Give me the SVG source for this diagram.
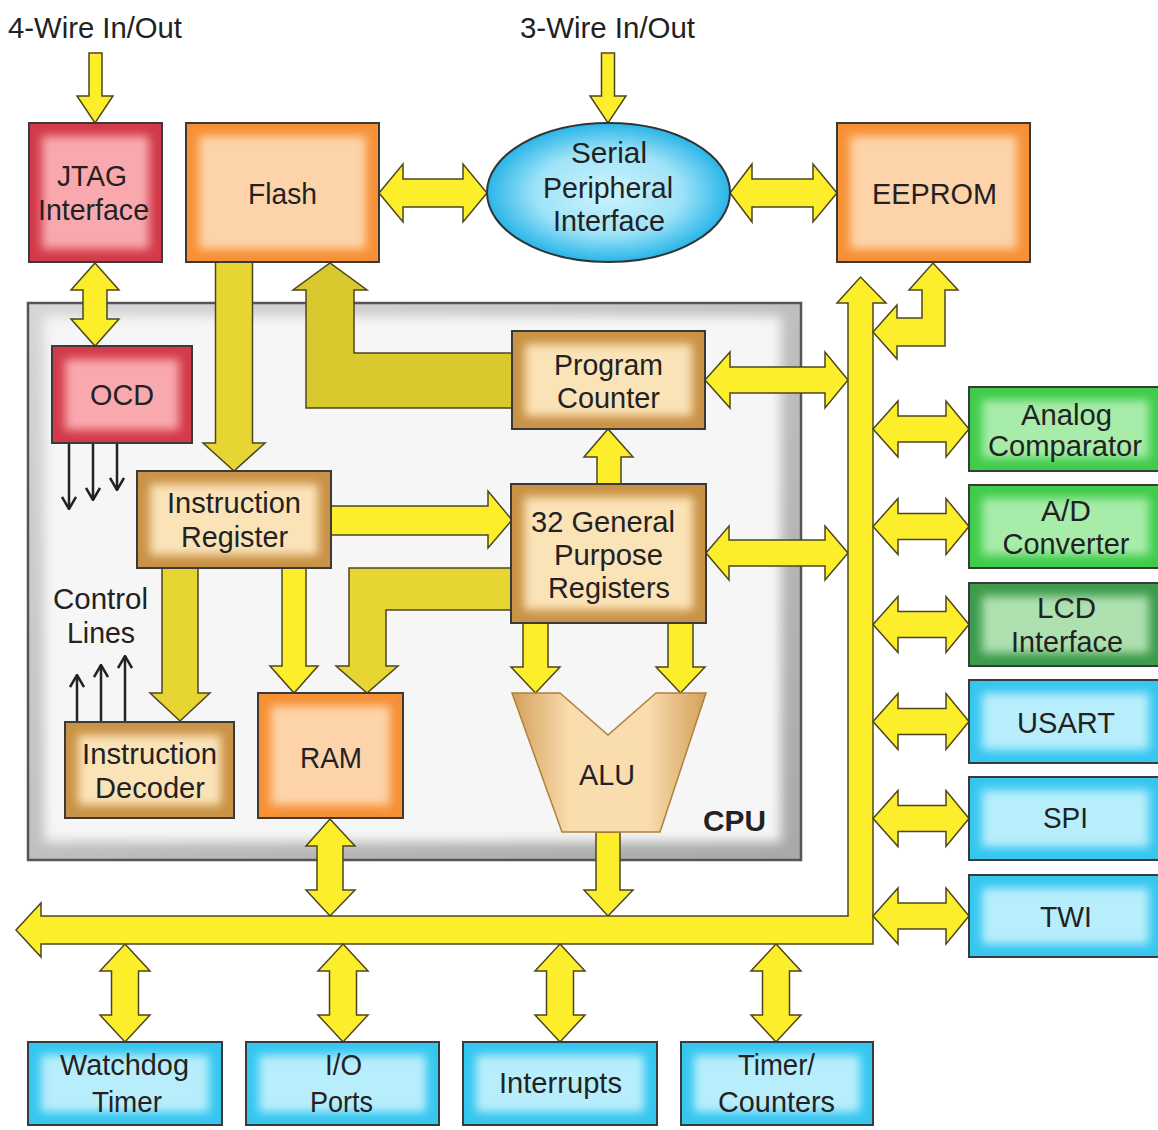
<svg xmlns="http://www.w3.org/2000/svg" width="1158" height="1130" viewBox="0 0 1158 1130">
<style>
.t{font-family:"Liberation Sans",Arial,sans-serif;fill:#222;text-anchor:middle;font-size:30px}
.tb{font-weight:bold}
.bx{fill:none;stroke:#3a3a3a;stroke-width:2}
.y{fill:#fdee2b;stroke:#4d4520;stroke-width:1.5;stroke-linejoin:miter}
.m{fill:#e6d532;stroke:#4d4520;stroke-width:1.5}
.o{fill:#d9c82e;stroke:#4d4520;stroke-width:1.5}
.ln{stroke:#222;stroke-width:2.5;fill:none}
</style>
<defs>
<filter id="soft" x="-20%" y="-20%" width="140%" height="140%"><feGaussianBlur stdDeviation="5"/></filter>
<filter id="softL" x="-10%" y="-10%" width="120%" height="120%"><feGaussianBlur stdDeviation="6"/></filter>
<radialGradient id="spiG" cx="50%" cy="50%" r="50%"><stop offset="0" stop-color="#cdf4fd"/><stop offset="0.6" stop-color="#9fe3f8"/><stop offset="1" stop-color="#28b5e8"/></radialGradient>
<linearGradient id="aluG" x1="0" y1="0" x2="1" y2="0"><stop offset="0" stop-color="#d4a05a"/><stop offset="0.3" stop-color="#f9ddaf"/><stop offset="0.7" stop-color="#f9ddaf"/><stop offset="1" stop-color="#d4a05a"/></linearGradient>
<linearGradient id="cpuG" x1="0" y1="0" x2="1" y2="1"><stop offset="0" stop-color="#d6d6d6"/><stop offset="1" stop-color="#a8a8a8"/></linearGradient>
<marker id="v" viewBox="0 0 14 16" refX="13" refY="8" markerWidth="14" markerHeight="16" markerUnits="userSpaceOnUse" orient="auto"><path d="M1,1 L13,8 L1,15" fill="none" stroke="#222" stroke-width="2.5"/></marker>
</defs>
<rect width="1158" height="1130" fill="#fff"/>

<!-- CPU container -->
<g id="cpu">
<rect x="28" y="303" width="773" height="557" fill="url(#cpuG)"/>
<rect x="44" y="316" width="737" height="526" fill="#f6f6f6" filter="url(#softL)"/>
<rect x="28" y="303" width="773" height="557" fill="none" stroke="#555" stroke-width="2.5"/>
<text class="t tb" x="734.5" y="831" font-size="33" textLength="63" lengthAdjust="spacingAndGlyphs">CPU</text>
</g>

<!-- connectors -->
<g id="connectors">
<polygon class="y" points="89,53 102,53 102,96 113,96 95,123 77,96 89,96"/>
<polygon class="y" points="601.5,53 614.5,53 614.5,96 626,96 608,123 590,96 601.5,96"/>
<polygon class="y" points="95,263 119,290 107,290 107,319 119,319 95,346 71,319 83,319 83,290 71,290"/>
<polygon class="y" points="379,193 403,164 403,179 463,179 463,164 487,193 463,222 463,207 403,207 403,222"/>
<polygon class="y" points="730,193 752,164 752,179 813,179 813,164 837,193 813,222 813,207 752,207 752,222"/>
<polygon class="m" points="215.5,262 252.5,262 252.5,443 265,443 234,471 203,443 215.5,443"/>
<polygon class="o" points="306,408 512,408 512,353 354,353 354,290 367,290 330,263 293,290 306,290"/>
<polygon class="y" points="705,380 730,352 730,367 825,367 825,352 848,380 825,408 825,393 730,393 730,408"/>
<polygon class="y" points="706,553 729,526 729,540 825,540 825,526 848,553 825,580 825,566 729,566 729,580"/>
<polygon class="y" points="597,484 621,484 621,457 633,457 608,429 584,457 597,457"/>
<polygon class="y" points="331,506 488,506 488,491 512,520 488,548 488,535 331,535"/>
<polygon class="m" points="162,568 198,568 198,693 210,693 180,721 150,693 162,693"/>
<polygon class="y" points="282,568 306,568 306,666 318,666 294,693 270,666 282,666"/>
<polygon class="m" points="511,568 349,568 349,666 336,666 367,693 398,666 386,666 386,610 511,610"/>
<polygon class="y" points="523,623 548,623 548,667 560,667 535.5,693 511,667 523,667"/>
<polygon class="y" points="668,623 693,623 693,667 705,667 680.5,693 656,667 668,667"/>
<polygon class="y" points="596,832 620,832 620,890 633,890 608,916 584,890 596,890"/>
<polygon class="y" points="330,819 355,846 343,846 343,890 355,890 330,916 306,890 317,890 317,846 306,846"/>
<polygon class="y" points="16,930 41,903 41,916 848,916 848,303 837,303 860.5,277 886,303 873,303 873,944 41,944 41,957"/>
<polygon class="y" points="873,332 897,305 897,318 922,318 922,290 909,290 933,263 958,290 945,290 945,346 897,346 897,359"/>
<polygon class="y" points="873,429 898,401 898,416 946,416 946,401 969,429 946,457 946,442 898,442 898,457"/>
<polygon class="y" points="873,526.5 898,498.5 898,513.5 946,513.5 946,498.5 969,526.5 946,554.5 946,539.5 898,539.5 898,554.5"/>
<polygon class="y" points="873,624.5 898,596.5 898,611.5 946,611.5 946,596.5 969,624.5 946,652.5 946,637.5 898,637.5 898,652.5"/>
<polygon class="y" points="873,721.5 898,693.5 898,708.5 946,708.5 946,693.5 969,721.5 946,749.5 946,734.5 898,734.5 898,749.5"/>
<polygon class="y" points="873,818.5 898,790.5 898,805.5 946,805.5 946,790.5 969,818.5 946,846.5 946,831.5 898,831.5 898,846.5"/>
<polygon class="y" points="873,916 898,888 898,903 946,903 946,888 969,916 946,944 946,929 898,929 898,944"/>
<polygon class="y" points="125,944 150,971 138.5,971 138.5,1015 150,1015 125,1042 100,1015 111.5,1015 111.5,971 100,971"/>
<polygon class="y" points="343,944 368,971 356.5,971 356.5,1015 368,1015 343,1042 318,1015 329.5,1015 329.5,971 318,971"/>
<polygon class="y" points="560,944 585,971 573.5,971 573.5,1015 585,1015 560,1042 535,1015 546.5,1015 546.5,971 535,971"/>
<polygon class="y" points="776,944 801,971 789.5,971 789.5,1015 801,1015 776,1042 751,1015 762.5,1015 762.5,971 751,971"/>
<line class="ln" x1="69" y1="443" x2="69" y2="509" marker-end="url(#v)"/>
<line class="ln" x1="93" y1="443" x2="93" y2="500" marker-end="url(#v)"/>
<line class="ln" x1="117" y1="443" x2="117" y2="490" marker-end="url(#v)"/>
<line class="ln" x1="77" y1="722" x2="77" y2="675" marker-end="url(#v)"/>
<line class="ln" x1="101" y1="722" x2="101" y2="665" marker-end="url(#v)"/>
<line class="ln" x1="125" y1="722" x2="125" y2="656" marker-end="url(#v)"/>
</g>

<!-- free labels -->
<g id="labels">
<text class="t" x="95" y="38" font-size="29" textLength="174" lengthAdjust="spacingAndGlyphs">4-Wire In/Out</text>
<text class="t" x="607.5" y="38" font-size="29" textLength="175" lengthAdjust="spacingAndGlyphs">3-Wire In/Out</text>
<text class="t" x="100.5" y="609" font-size="30" textLength="95" lengthAdjust="spacingAndGlyphs">Control</text>
<text class="t" x="101" y="643" font-size="30" textLength="68" lengthAdjust="spacingAndGlyphs">Lines</text>
</g>

<g id="jtag">
<rect x="29" y="123" width="133" height="139" fill="#d23a48"/>
<rect x="42" y="136" width="107" height="113" fill="#f9a8ae" filter="url(#soft)"/>
<rect class="bx" x="29" y="123" width="133" height="139"/>
<text class="t" x="92" y="186" font-size="32" textLength="70" lengthAdjust="spacingAndGlyphs">JTAG</text>
<text class="t" x="93.5" y="220" font-size="32" textLength="111" lengthAdjust="spacingAndGlyphs">Interface</text>
</g>
<g id="flash">
<rect x="186" y="123" width="193" height="139" fill="#f79034"/>
<rect x="199" y="136" width="167" height="113" fill="#fdd4aa" filter="url(#soft)"/>
<rect class="bx" x="186" y="123" width="193" height="139"/>
<text class="t" x="282.5" y="204" font-size="32" textLength="69" lengthAdjust="spacingAndGlyphs">Flash</text>
</g>
<g id="spi-if">
<ellipse cx="608.5" cy="192.5" rx="121.5" ry="69.5" fill="url(#spiG)" stroke="#333" stroke-width="2"/>
<text class="t" x="609" y="163" font-size="32" textLength="76" lengthAdjust="spacingAndGlyphs">Serial</text>
<text class="t" x="608" y="198" font-size="32" textLength="130" lengthAdjust="spacingAndGlyphs">Peripheral</text>
<text class="t" x="609" y="231" font-size="32" textLength="112" lengthAdjust="spacingAndGlyphs">Interface</text>
</g>
<g id="eeprom">
<rect x="837" y="123" width="193" height="139" fill="#f79034"/>
<rect x="850" y="136" width="167" height="113" fill="#fdd4aa" filter="url(#soft)"/>
<rect class="bx" x="837" y="123" width="193" height="139"/>
<text class="t" x="934.5" y="204" font-size="32" textLength="125" lengthAdjust="spacingAndGlyphs">EEPROM</text>
</g>
<g id="ocd">
<rect x="52" y="346" width="140" height="97" fill="#d23a48"/>
<rect x="65" y="359" width="114" height="71" fill="#f9a8ae" filter="url(#soft)"/>
<rect class="bx" x="52" y="346" width="140" height="97"/>
<text class="t" x="122" y="405" font-size="32" textLength="64" lengthAdjust="spacingAndGlyphs">OCD</text>
</g>
<g id="pc">
<rect x="512" y="331" width="193" height="98" fill="#c99245"/>
<rect x="525" y="344" width="167" height="72" fill="#fbe3b8" filter="url(#soft)"/>
<rect class="bx" x="512" y="331" width="193" height="98"/>
<text class="t" x="608.5" y="375" font-size="31" textLength="109" lengthAdjust="spacingAndGlyphs">Program</text>
<text class="t" x="608.5" y="408" font-size="31" textLength="103" lengthAdjust="spacingAndGlyphs">Counter</text>
</g>
<g id="ir">
<rect x="137" y="471" width="194" height="97" fill="#c99245"/>
<rect x="150" y="484" width="168" height="71" fill="#fbe3b8" filter="url(#soft)"/>
<rect class="bx" x="137" y="471" width="194" height="97"/>
<text class="t" x="234" y="513" font-size="30" textLength="134" lengthAdjust="spacingAndGlyphs">Instruction</text>
<text class="t" x="234.5" y="547" font-size="30" textLength="107" lengthAdjust="spacingAndGlyphs">Register</text>
</g>
<g id="gpr">
<rect x="511" y="484" width="195" height="139" fill="#c99245"/>
<rect x="524" y="497" width="169" height="113" fill="#fbe3b8" filter="url(#soft)"/>
<rect class="bx" x="511" y="484" width="195" height="139"/>
<text class="t" x="603" y="532" font-size="30" textLength="144" lengthAdjust="spacingAndGlyphs">32 General</text>
<text class="t" x="608.5" y="565" font-size="30" textLength="109" lengthAdjust="spacingAndGlyphs">Purpose</text>
<text class="t" x="609" y="598" font-size="30" textLength="122" lengthAdjust="spacingAndGlyphs">Registers</text>
</g>
<g id="id">
<rect x="65" y="722" width="169" height="96" fill="#c99245"/>
<rect x="78" y="735" width="143" height="70" fill="#fbe3b8" filter="url(#soft)"/>
<rect class="bx" x="65" y="722" width="169" height="96"/>
<text class="t" x="149.5" y="764" font-size="30" textLength="135" lengthAdjust="spacingAndGlyphs">Instruction</text>
<text class="t" x="150" y="798" font-size="30" textLength="110" lengthAdjust="spacingAndGlyphs">Decoder</text>
</g>
<g id="ram">
<rect x="258" y="693" width="145" height="125" fill="#f79034"/>
<rect x="271" y="706" width="119" height="99" fill="#fdd4aa" filter="url(#soft)"/>
<rect class="bx" x="258" y="693" width="145" height="125"/>
<text class="t" x="331" y="768" font-size="34" textLength="62" lengthAdjust="spacingAndGlyphs">RAM</text>
</g>
<g id="alu">
<polygon points="512,693 560,693 608,735 656,693 706,693 660,832 562,832" fill="url(#aluG)" stroke="#b0803e" stroke-width="1.5"/>
<text class="t" x="607" y="785" font-size="34" textLength="56" lengthAdjust="spacingAndGlyphs">ALU</text>
</g>

<g id="analog">
<rect x="969" y="387" width="193" height="84" fill="#3fcc4a"/>
<rect x="982" y="400" width="167" height="58" fill="#a8ecaa" filter="url(#soft)"/>
<rect class="bx" x="969" y="387" width="193" height="84"/>
<text class="t" x="1066.5" y="425" font-size="31" textLength="91" lengthAdjust="spacingAndGlyphs">Analog</text>
<text class="t" x="1065" y="456" font-size="31" textLength="154" lengthAdjust="spacingAndGlyphs">Comparator</text>
</g>
<g id="adc">
<rect x="969" y="485" width="193" height="83" fill="#3fcc4a"/>
<rect x="982" y="498" width="167" height="57" fill="#a8ecaa" filter="url(#soft)"/>
<rect class="bx" x="969" y="485" width="193" height="83"/>
<text class="t" x="1066" y="521" font-size="31" textLength="50" lengthAdjust="spacingAndGlyphs">A/D</text>
<text class="t" x="1066" y="554" font-size="31" textLength="127" lengthAdjust="spacingAndGlyphs">Converter</text>
</g>
<g id="lcd">
<rect x="969" y="583" width="193" height="83" fill="#3d9b4c"/>
<rect x="982" y="596" width="167" height="57" fill="#aee0b0" filter="url(#soft)"/>
<rect class="bx" x="969" y="583" width="193" height="83"/>
<text class="t" x="1066.5" y="618" font-size="31" textLength="59" lengthAdjust="spacingAndGlyphs">LCD</text>
<text class="t" x="1067" y="652" font-size="31" textLength="112" lengthAdjust="spacingAndGlyphs">Interface</text>
</g>
<g id="usart">
<rect x="969" y="680" width="193" height="83" fill="#35c6f0"/>
<rect x="982" y="693" width="167" height="57" fill="#b8eefc" filter="url(#soft)"/>
<rect class="bx" x="969" y="680" width="193" height="83"/>
<text class="t" x="1066" y="733" font-size="34" textLength="98" lengthAdjust="spacingAndGlyphs">USART</text>
</g>
<g id="spi">
<rect x="969" y="777" width="193" height="83" fill="#35c6f0"/>
<rect x="982" y="790" width="167" height="57" fill="#b8eefc" filter="url(#soft)"/>
<rect class="bx" x="969" y="777" width="193" height="83"/>
<text class="t" x="1065.5" y="828" font-size="33" textLength="45" lengthAdjust="spacingAndGlyphs">SPI</text>
</g>
<g id="twi">
<rect x="969" y="875" width="193" height="82" fill="#35c6f0"/>
<rect x="982" y="888" width="167" height="56" fill="#b8eefc" filter="url(#soft)"/>
<rect class="bx" x="969" y="875" width="193" height="82"/>
<text class="t" x="1066" y="927" font-size="33" textLength="52" lengthAdjust="spacingAndGlyphs">TWI</text>
</g>

<g id="watchdog">
<rect x="28" y="1042" width="194" height="83" fill="#35c6f0"/>
<rect x="41" y="1055" width="168" height="57" fill="#b8eefc" filter="url(#soft)"/>
<rect class="bx" x="28" y="1042" width="194" height="83"/>
<text class="t" x="124.5" y="1075" font-size="30" textLength="129" lengthAdjust="spacingAndGlyphs">Watchdog</text>
<text class="t" x="127" y="1112" font-size="30" textLength="70" lengthAdjust="spacingAndGlyphs">Timer</text>
</g>
<g id="io">
<rect x="246" y="1042" width="193" height="83" fill="#35c6f0"/>
<rect x="259" y="1055" width="167" height="57" fill="#b8eefc" filter="url(#soft)"/>
<rect class="bx" x="246" y="1042" width="193" height="83"/>
<text class="t" x="343.5" y="1075" font-size="30" textLength="37" lengthAdjust="spacingAndGlyphs">I/O</text>
<text class="t" x="341.5" y="1112" font-size="30" textLength="63" lengthAdjust="spacingAndGlyphs">Ports</text>
</g>
<g id="interrupts">
<rect x="463" y="1042" width="194" height="83" fill="#35c6f0"/>
<rect x="476" y="1055" width="168" height="57" fill="#b8eefc" filter="url(#soft)"/>
<rect class="bx" x="463" y="1042" width="194" height="83"/>
<text class="t" x="560.5" y="1093" font-size="32" textLength="123" lengthAdjust="spacingAndGlyphs">Interrupts</text>
</g>
<g id="timers">
<rect x="681" y="1042" width="192" height="83" fill="#35c6f0"/>
<rect x="694" y="1055" width="166" height="57" fill="#b8eefc" filter="url(#soft)"/>
<rect class="bx" x="681" y="1042" width="192" height="83"/>
<text class="t" x="776.5" y="1075" font-size="30" textLength="77" lengthAdjust="spacingAndGlyphs">Timer/</text>
<text class="t" x="776.5" y="1112" font-size="30" textLength="117" lengthAdjust="spacingAndGlyphs">Counters</text>
</g>
</svg>
